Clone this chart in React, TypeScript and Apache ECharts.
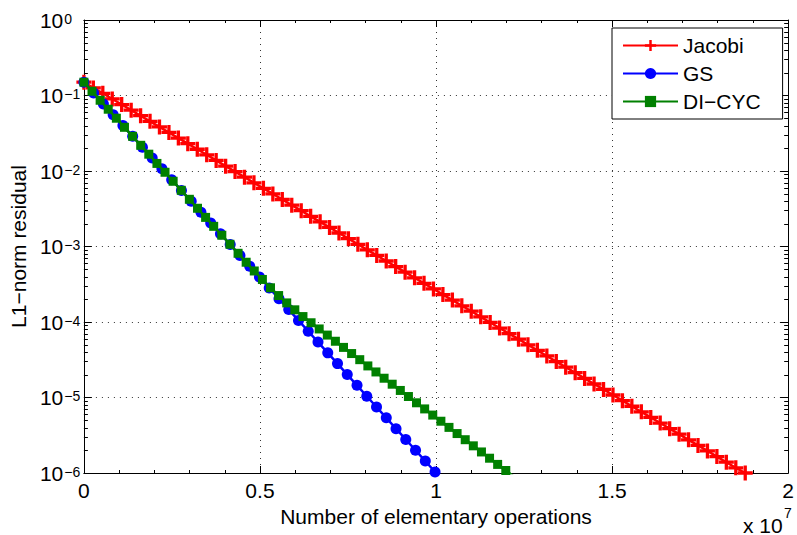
import React, { useEffect, useRef } from "react";
import * as echarts from "echarts";

// x values in units of 1e7 elementary operations
const xJacobi = [0,0.0268,0.0537,0.0805,0.1073,0.1342,0.1610,0.1878,0.2146,0.2415,0.2683,0.2951,0.3220,0.3488,0.3756,0.4025,0.4293,0.4561,0.4829,0.5098,0.5366,0.5634,0.5903,0.6171,0.6439,0.6708,0.6976,0.7244,0.7512,0.7781,0.8049,0.8317,0.8586,0.8854,0.9122,0.9391,0.9659,0.9927,1.0195,1.0464,1.0732,1.1000,1.1269,1.1537,1.1805,1.2074,1.2342,1.2610,1.2878,1.3147,1.3415,1.3683,1.3952,1.4220,1.4488,1.4757,1.5025,1.5293,1.5561,1.5830,1.6098,1.6366,1.6635,1.6903,1.7171,1.7440,1.7708,1.7976,1.8244,1.8513,1.8781];
const yJacobi = [1.50e-1,1.26e-1,1.07e-1,9.00e-2,7.59e-2,6.40e-2,5.40e-2,4.55e-2,3.84e-2,3.24e-2,2.73e-2,2.30e-2,1.94e-2,1.64e-2,1.38e-2,1.16e-2,9.82e-3,8.28e-3,6.98e-3,5.89e-3,4.97e-3,4.19e-3,3.53e-3,2.98e-3,2.51e-3,2.12e-3,1.79e-3,1.51e-3,1.27e-3,1.07e-3,9.04e-4,7.62e-4,6.43e-4,5.42e-4,4.57e-4,3.85e-4,3.25e-4,2.74e-4,2.31e-4,1.95e-4,1.64e-4,1.39e-4,1.17e-4,9.86e-5,8.32e-5,7.01e-5,5.92e-5,4.99e-5,4.21e-5,3.55e-5,2.99e-5,2.52e-5,2.13e-5,1.79e-5,1.51e-5,1.28e-5,1.08e-5,9.08e-6,7.66e-6,6.46e-6,5.45e-6,4.59e-6,3.87e-6,3.27e-6,2.75e-6,2.32e-6,1.96e-6,1.65e-6,1.39e-6,1.17e-6,1.00e-6];

const xGS = [0,0.0277,0.0554,0.0831,0.1108,0.1385,0.1662,0.1939,0.2216,0.2493,0.2770,0.3047,0.3324,0.3601,0.3878,0.4155,0.4432,0.4709,0.4986,0.5263,0.5540,0.5817,0.6094,0.6371,0.6648,0.6925,0.7202,0.7479,0.7756,0.8033,0.8310,0.8587,0.8864,0.9141,0.9418,0.9695,0.9972];
const yGS = [1.50e-1,1.08e-1,7.74e-2,5.57e-2,4.00e-2,2.88e-2,2.07e-2,1.49e-2,1.07e-2,7.67e-3,5.52e-3,3.97e-3,2.85e-3,2.05e-3,1.47e-3,1.06e-3,7.62e-4,5.47e-4,3.94e-4,2.82e-4,2.03e-4,1.46e-4,1.05e-4,7.55e-5,5.42e-5,3.90e-5,2.81e-5,2.01e-5,1.45e-5,1.04e-5,7.48e-6,5.38e-6,3.86e-6,2.78e-6,2.00e-6,1.44e-6,1.03e-6];

const xDICYC = [0,0.0230,0.0461,0.0691,0.0922,0.1152,0.1382,0.1613,0.1843,0.2074,0.2304,0.2534,0.2765,0.2995,0.3226,0.3456,0.3686,0.3917,0.4147,0.4378,0.4608,0.4838,0.5069,0.5299,0.5530,0.5760,0.5990,0.6221,0.6451,0.6682,0.6912,0.7142,0.7373,0.7603,0.7834,0.8064,0.8294,0.8525,0.8755,0.8986,0.9216,0.9446,0.9677,0.9907,1.0138,1.0368,1.0598,1.0829,1.1059,1.1290,1.1520,1.1750,1.1981,1.2211];
const yDICYC = [1.50e-1,1.14e-1,8.65e-2,6.58e-2,5.00e-2,3.79e-2,2.88e-2,2.19e-2,1.67e-2,1.26e-2,9.62e-3,7.31e-3,5.55e-3,4.22e-3,3.21e-3,2.43e-3,1.85e-3,1.41e-3,1.07e-3,8.13e-4,6.19e-4,4.74e-4,3.66e-4,2.84e-4,2.24e-4,1.79e-4,1.45e-4,1.18e-4,9.77e-5,8.09e-5,6.71e-5,5.56e-5,4.61e-5,3.82e-5,3.17e-5,2.62e-5,2.18e-5,1.80e-5,1.50e-5,1.24e-5,1.03e-5,8.51e-6,7.06e-6,5.85e-6,4.85e-6,4.02e-6,3.33e-6,2.76e-6,2.29e-6,1.90e-6,1.57e-6,1.30e-6,1.08e-6,8.95e-7];

const seriesNames = ["Jacobi", "GS", "DI\u2212CYC"];
const xTickLabels = ["0", "0.5", "1", "1.5", "2"];
const xAxisTitle = "Number of elementary operations";
const yAxisTitle = "L1\u2212norm residual";

const FONT = "'Liberation Sans', Arial, Helvetica, sans-serif";
const PLUS = "path://M3.9,0 L6.1,0 L6.1,3.9 L10,3.9 L10,6.1 L6.1,6.1 L6.1,10 L3.9,10 L3.9,6.1 L0,6.1 L0,3.9 L3.9,3.9 Z";

export default function App() {
  const ref = useRef<HTMLDivElement>(null);
  useEffect(() => {
    if (!ref.current) return;
    const chart = echarts.init(ref.current, null, { renderer: "svg" });

    const minorVals: number[] = [];
    for (let e = -6; e < 0; e++) {
      for (let m = 2; m <= 9; m++) minorVals.push(m * Math.pow(10, e));
    }

    const gridLine = { show: true, lineStyle: { color: "#333", width: 1, type: [1, 5] as any } };
    const axisLine = { show: true, onZero: false, lineStyle: { color: "#000", width: 1 } };

    const option: any = {
      animation: false,
      backgroundColor: "#fff",
      textStyle: { fontFamily: FONT },
      grid: { left: 83, right: 6, top: 20, bottom: 62, containLabel: false },
      legend: {
        data: seriesNames,
        orient: "vertical",
        left: 612,
        top: 28,
        padding: [7, 22, 7, 10],
        itemWidth: 55,
        itemHeight: 14,
        itemGap: 7,
        borderColor: "#000",
        borderWidth: 1,
        borderRadius: 0,
        backgroundColor: "#fff",
        selectedMode: false,
        textStyle: { fontSize: 21, fontFamily: FONT, color: "#000", lineHeight: 21 },
      },
      xAxis: [
        {
          type: "value",
          position: "bottom",
          min: 0,
          max: 2,
          interval: 0.5,
          axisLine,
          axisTick: { show: true, inside: true, length: 7, lineStyle: { color: "#000" } },
          minorTick: { show: true, splitNumber: 5, length: 3, lineStyle: { color: "#000" } },
          splitLine: gridLine,
          axisLabel: {
            show: true,
            margin: 7,
            fontSize: 21,
            fontFamily: FONT,
            color: "#000",
            formatter: (v: number) => {
              const i = Math.round(v / 0.5);
              return xTickLabels[i] ?? String(v);
            },
          },
          name: xAxisTitle,
          nameLocation: "middle",
          nameGap: 29,
          nameTextStyle: { fontSize: 21, fontFamily: FONT, color: "#000" },
        },
        {
          type: "value",
          position: "top",
          min: 0,
          max: 2,
          interval: 0.5,
          axisLine,
          axisTick: { show: true, inside: true, length: 7, lineStyle: { color: "#000" } },
          minorTick: { show: true, splitNumber: 5, length: 3, lineStyle: { color: "#000" } },
          splitLine: { show: false },
          axisLabel: { show: false },
        },
      ],
      yAxis: [
        {
          type: "log",
          logBase: 10,
          position: "left",
          min: 1e-6,
          max: 1,
          splitNumber: 6,
          axisLine,
          axisTick: { show: true, inside: true, length: 8, lineStyle: { color: "#000" } },
          splitLine: gridLine,
          axisLabel: {
            show: true,
            align: "left",
            margin: 44,
            formatter: (v: number) => {
              const e = Math.round(Math.log10(v));
              return "{b|10}{s|" + (e === 0 ? "0" : "\u2212" + -e) + "}";
            },
            rich: {
              b: { fontSize: 21, fontFamily: FONT, color: "#000", lineHeight: 21, padding: [8, 0, 8, 0], verticalAlign: "middle" },
              s: { fontSize: 14, fontFamily: FONT, color: "#000", lineHeight: 14, padding: [2, 0, 0, 1], verticalAlign: "top" },
            },
          },
          name: yAxisTitle,
          nameLocation: "middle",
          nameRotate: 90,
          nameGap: 53,
          nameTextStyle: { fontSize: 21, fontFamily: FONT, color: "#000" },
        },
        {
          type: "log",
          logBase: 10,
          position: "right",
          min: 1e-6,
          max: 1,
          splitNumber: 6,
          axisLine,
          axisTick: { show: true, inside: true, length: 8, lineStyle: { color: "#000" } },
          splitLine: { show: false },
          axisLabel: { show: false },
        },
      ],
      graphic: [
        {
          type: "text",
          x: 743,
          y: 525,
          silent: true,
          style: { text: "x 10", fontSize: 21, fontFamily: FONT, fill: "#000", align: "left", verticalAlign: "middle" },
        },
        {
          type: "text",
          x: 784,
          y: 513,
          silent: true,
          style: { text: "7", fontSize: 14, fontFamily: FONT, fill: "#000", align: "left", verticalAlign: "middle" },
        },
      ],
      series: [
        {
          name: seriesNames[0],
          type: "line",
          data: xJacobi.map((x, i) => [x, yJacobi[i]]),
          symbol: PLUS,
          symbolSize: 15,
          showSymbol: true,
          lineStyle: { color: "#ff0000", width: 2.5 },
          itemStyle: { color: "#ff0000", borderWidth: 0 },
          silent: true,
          z: 2,
        },
        {
          name: seriesNames[1],
          type: "line",
          data: xGS.map((x, i) => [x, yGS[i]]),
          symbol: "circle",
          symbolSize: 11,
          lineStyle: { color: "#0000ff", width: 2.5 },
          itemStyle: { color: "#0000ff", borderWidth: 0 },
          silent: true,
          z: 3,
        },
        {
          name: seriesNames[2],
          type: "line",
          data: xDICYC.map((x, i) => [x, yDICYC[i]]),
          symbol: "rect",
          symbolSize: 9,
          lineStyle: { color: "#008000", width: 2.5 },
          itemStyle: { color: "#008000", borderWidth: 0 },
          silent: true,
          z: 4,
        },
        {
          name: "minorTicks",
          type: "custom",
          silent: true,
          z: 5,
          data: minorVals.map((v) => [0, v]),
          renderItem: (params: any, api: any) => {
            const v = api.value(1);
            const l = api.coord([0, v]);
            const r = api.coord([2, v]);
            const y = Math.round(l[1]) + 0.5;
            return {
              type: "group",
              children: [
                { type: "line", shape: { x1: l[0], y1: y, x2: l[0] + 4, y2: y }, style: { stroke: "#000", lineWidth: 1 } },
                { type: "line", shape: { x1: r[0] - 4, y1: y, x2: r[0], y2: y }, style: { stroke: "#000", lineWidth: 1 } },
              ],
            };
          },
        },
      ],
    };

    chart.setOption(option);
    return () => chart.dispose();
  }, []);

  return (
    <div
      ref={ref}
      style={{ position: "absolute", left: 0, top: 0, width: 797, height: 535, background: "#fff" }}
    />
  );
}
